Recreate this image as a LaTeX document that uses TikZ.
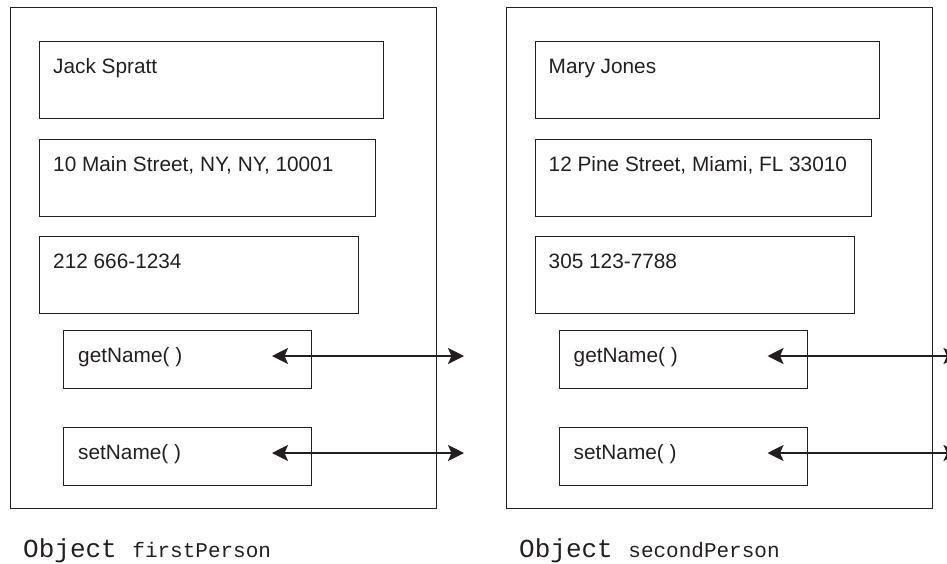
\documentclass[tikz,border=0pt]{standalone}
\usepackage{fontspec}
\setmainfont{Liberation Sans}
\newfontfamily\monofont{Liberation Mono}
\usetikzlibrary{arrows.meta, calc}
\definecolor{ink}{HTML}{231F20}

\begin{document}
\begin{tikzpicture}[x=1pt, y=-1pt,
      every node/.style={text=ink, inner sep=0pt},
      objbox/.style={draw=ink, line width=1.3pt, anchor=north west, minimum width=426pt, minimum height=501pt},
      field/.style={draw=ink, line width=1.3pt, anchor=north west, minimum height=77pt},
      method/.style={draw=ink, line width=1.3pt, anchor=north west, minimum width=248pt, minimum height=58pt},
      txt/.style={anchor=base west, font=\fontsize{20.8}{24}\selectfont},
      caption/.style={anchor=base west, font=\monofont\fontsize{26}{30}\selectfont},
      msg/.style={{Stealth[length=16pt, width=16pt, inset=3.5pt]}-{Stealth[length=16pt, width=16pt, inset=3.5pt]}, line width=2.2pt, draw=ink}
    ]
    \clip (0,0) rectangle (947,563);
    \useasboundingbox (0,0) rectangle (947,563);

    % first object
    \node[objbox] (obj1) at (10,7) {};
    \node[field, minimum width=344pt] (name1) at (39,41) {};
    \node[field, minimum width=336pt] (addr1) at (39,139) {};
    \node[field, minimum width=319pt] (phone1) at (39,236) {};
    \node[method] (get1) at (63,330) {};
    \node[method] (set1) at (63,427) {};
    \node[txt] (name1t) at ($(name1.north west)+(14,32)$) {Jack Spratt};
    \node[txt] (addr1t) at ($(addr1.north west)+(14,32)$) {10 Main Street, NY, NY, 10001};
    \node[txt] (phone1t) at ($(phone1.north west)+(14,32)$) {212 666-1234};
    \node[txt] (get1t) at ($(get1.north west)+(15,32)$) {getName( )};
    \node[txt] (set1t) at ($(set1.north west)+(15,32)$) {setName( )};
    \node[caption] (cap1) at (23,557) {Object {\fontsize{21}{24}\selectfont firstPerson}};
    \coordinate (get1in) at (272,356);
    \coordinate (get1out) at (464,356);
    \coordinate (set1in) at (272,453);
    \coordinate (set1out) at (464,453);
    \draw[msg] (get1in) -- (get1out);
    \draw[msg] (set1in) -- (set1out);

    % second object
    \node[objbox] (obj2) at (505.5,7) {};
    \node[field, minimum width=344pt] (name2) at (534.5,41) {};
    \node[field, minimum width=336pt] (addr2) at (534.5,139) {};
    \node[field, minimum width=319pt] (phone2) at (534.5,236) {};
    \node[method] (get2) at (558.5,330) {};
    \node[method] (set2) at (558.5,427) {};
    \node[txt] (name2t) at ($(name2.north west)+(14,32)$) {Mary Jones};
    \node[txt] (addr2t) at ($(addr2.north west)+(14,32)$) {12 Pine Street, Miami, FL 33010};
    \node[txt] (phone2t) at ($(phone2.north west)+(14,32)$) {305 123-7788};
    \node[txt] (get2t) at ($(get2.north west)+(15,32)$) {getName( )};
    \node[txt] (set2t) at ($(set2.north west)+(15,32)$) {setName( )};
    \node[caption] (cap2) at (519,557) {Object {\fontsize{21}{24}\selectfont secondPerson}};
    \coordinate (get2in) at (767.5,356);
    \coordinate (get2out) at (959.5,356);
    \coordinate (set2in) at (767.5,453);
    \coordinate (set2out) at (959.5,453);
    \draw[msg] (get2in) -- (get2out);
    \draw[msg] (set2in) -- (set2out);
  \end{tikzpicture}
\end{document}
